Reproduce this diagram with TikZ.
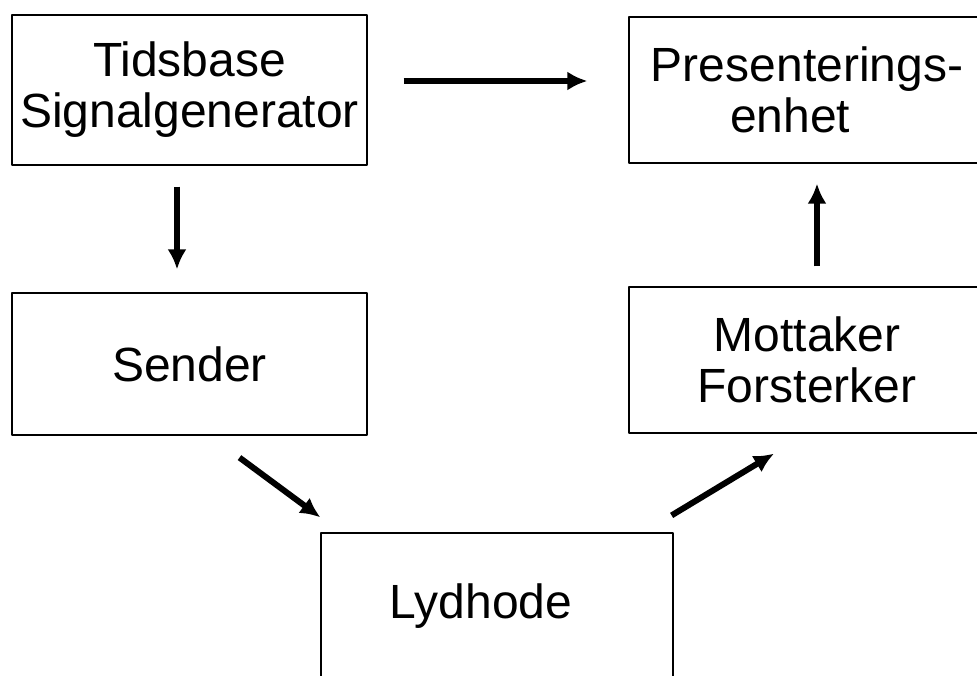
\documentclass[tikz,border=0pt]{standalone}
\usepackage{fontspec}
\setmainfont{Liberation Sans}
\usetikzlibrary{arrows.meta}
\tikzset{
  unit/.style={draw,rectangle,line width=1.2bp,inner sep=0pt,align=center,
    font=\fontsize{48bp}{51bp}\selectfont},
  flow/.style={line width=6bp,-{Latex[length=20bp,width=19bp]}},
}
\begin{document}
\begin{tikzpicture}[>=latex,line join=bevel,]
%%
\useasboundingbox (0bp,0bp) rectangle (977bp,676bp);
  \node (tids) at (189.5bp,586bp) [unit,minimum width=355bp,minimum height=150bp] {Tidsbase\\Signalgenerator};
  \node (pres) at (807bp,586bp) [unit,minimum width=356bp,minimum height=146bp] {Presenterings-\\enhet\hspace*{0.7em}};
  \node (send) at (189.5bp,312bp) [unit,minimum width=355bp,minimum height=142bp] {Sender};
  \node (mott) at (807bp,316bp) [unit,minimum width=356bp,minimum height=146bp] {Mottaker\\Forsterker};
  \node (lyd) at (497bp,70bp) [unit,minimum width=352bp,minimum height=146bp] {Lydhode\hspace*{32bp}};
%
  \draw [flow,shorten <=36bp,shorten >=41bp] ([yshift=9bp]tids.east) -- ([yshift=9bp]pres.west);
  \draw [flow,shorten <=21bp,shorten >=23bp] ([xshift=-12.5bp]tids.south) -- ([xshift=-12.5bp]send.north);
  \draw [flow,shorten <=20bp,shorten >=20bp] ([xshift=10bp]mott.north) -- ([xshift=10bp]pres.south);
  \draw [flow] ([shift={(50bp,-22bp)}]send.south) -- ([shift={(0bp,15bp)}]lyd.north west);
  \draw [flow] ([shift={(-2bp,17bp)}]lyd.north east) -- ([shift={(-33bp,-20bp)}]mott.south);
%
\end{tikzpicture}
\end{document}
